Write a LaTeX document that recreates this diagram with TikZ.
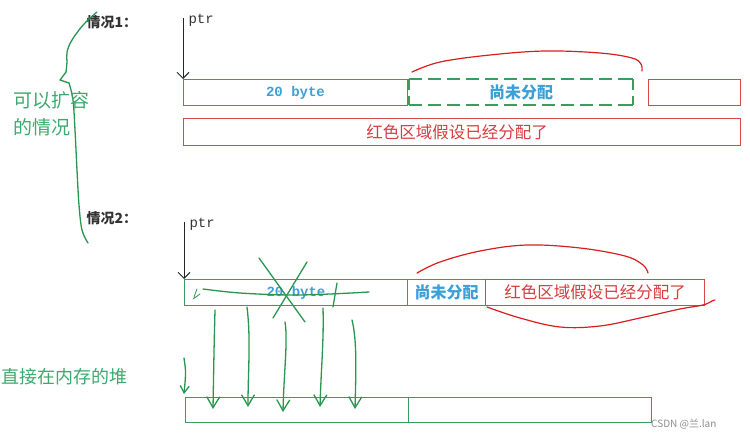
\documentclass[tikz,border=0pt]{standalone}
\usepackage{fontspec}
\setmainfont{Noto Sans CJK SC}
\newfontfamily\monof{Liberation Mono}
\usetikzlibrary{arrows.meta}
\definecolor{gline}{RGB}{58,157,93}
\definecolor{btext}{RGB}{60,160,215}
\definecolor{rline}{RGB}{217,72,72}
\definecolor{rtext}{RGB}{215,60,60}
\definecolor{hred}{RGB}{215,30,30}
\definecolor{hgreen}{RGB}{40,150,80}
\definecolor{gtext}{RGB}{60,170,110}
\begin{document}
\begin{tikzpicture}[x=1pt,y=-1pt,
  gboxs/.style={draw=gline, line width=1pt, rectangle, inner sep=0pt, anchor=north west, minimum height=26pt},
  gdashseg/.style={draw=gline, line width=1.4pt},
  rboxs/.style={draw=rline, line width=1pt, rectangle, inner sep=0pt, anchor=north west, minimum height=26pt},
  bt/.style={text=btext, font=\fontsize{16}{16}\selectfont\bfseries},
  rt/.style={text=rtext, font=\fontsize{16.5}{17}\selectfont},
  bytet/.style={text=btext, font=\monof\fontsize{14}{14}\selectfont\bfseries},
  monot/.style={font=\monof\fontsize{14}{14}\selectfont},
  caselbl/.style={anchor=west, font=\fontsize{14}{14}\selectfont\bfseries, text=black!80},
  ptrarrow/.style={draw=black!85, line width=1pt, -{Straight Barb[length=6pt,width=12pt]}},
  hand/.style={draw=hgreen, line width=1.3pt, line cap=round, line join=round},
  harrow/.style={hand, -{Straight Barb[length=11pt,width=13pt]}},
  redhand/.style={draw=hred, line width=1.2pt, line cap=round},
  gtxt/.style={anchor=west, text=gtext, font=\fontsize{19}{19}\selectfont}
]
\useasboundingbox (0,0) rectangle (750,436);

% ---------- case 1 ----------
\node[caselbl] (c1) at (83,22) {情况1：};
\node[monot, anchor=west, text=black!80] (p1) at (185,20) {ptr};
\coordinate (p1top) at (183,18);

\node[gboxs, minimum width=224pt] (a1) at (183,79) {};
\node[bytet] at (a1.center) {20 byte};
% dashed (not yet allocated) box, dashes drawn as solid pieces
\node[rectangle, inner sep=0pt, anchor=north west, minimum height=26pt, minimum width=224pt] (a2) at (409,79) {};
\foreach \x in {409,428,447,466,485,504,523,542,561,580,599} {
  \draw[gdashseg] (\x,79) -- ++(13,0);
  \draw[gdashseg] (\x,105) -- ++(13,0);
}
\draw[gdashseg] (618,79) -- (633,79);
\draw[gdashseg] (618,105) -- (633,105);
\draw[gdashseg] (409,79) -- (409,90) (409,96) -- (409,105);
\draw[gdashseg] (633,79) -- (633,90) (633,96) -- (633,105);
\node[bt] at (a2.center) {尚未分配};
\node[rboxs, minimum width=92pt] (a3) at (648,79) {};
\node[rboxs, minimum width=557pt, minimum height=27pt] (a4) at (183,118) {};
\node[rt] at ([xshift=-5pt]a4.center) {红色区域假设已经分配了};

\draw[ptrarrow] (p1top) -- (a1.north west);

\draw[redhand] plot[smooth, tension=0.6] coordinates {(412,72) (440,62) (490,55) (545,51) (600,53) (632,58) (641,64) (642,71)};

% left green bracket + text
\draw[hand] plot[smooth, tension=0.6] coordinates {(97,12) (84,24) (72,40) (67,52) (67,62) (66,72)};
\draw[hand] (66,72) -- (60,80) -- (69,83);
\draw[hand] plot[smooth, tension=0.6] coordinates {(69,83) (73,100) (75,130) (77,170) (79,205) (82,230) (88,243)};
\node[gtxt] (t1) at (10,100) {可以扩容};
\node[gtxt] (t2) at (10,127) {的情况};

% ---------- case 2 ----------
\node[caselbl] (c2) at (83,218) {情况2：};
\node[monot, anchor=west, text=black!80] (p2) at (186,224) {ptr};
\coordinate (p2top) at (184,222);

\node[gboxs, minimum width=223pt] (b1) at (184,279) {};
\node[bytet] at (b1.center) {20 byte};
\node[gboxs, minimum width=78pt] (b2) at (407,279) {};
\node[bt] at (b2.center) {尚未分配};
\node[rboxs, minimum width=219pt] (b3) at (485,279) {};
\node[rt] at (b3.center) {红色区域假设已经分配了};

\draw[ptrarrow] (p2top) -- (b1.north west);

\draw[redhand] plot[smooth, tension=0.6] coordinates {(417,273) (440,262) (480,251) (527,245) (580,248) (625,256) (643,265) (648,273)};
\draw[redhand] plot[smooth, tension=0.6] coordinates {(487,307) (520,318) (560,327) (600,326) (640,318) (680,309) (703,305) (712,301) (715,300)};

% hand strokes over the 20 byte box
\draw[hand] plot[smooth, tension=0.6] coordinates {(203,289) (240,293) (290,295) (330,294) (369,292)};
\draw[hand] (259,258) -- (305,322);
\draw[hand] (307,262) -- (273,318);
\draw[hand] (337,283) -- (333,307);
\draw[hand, line width=0.8pt] (194,297) -- (197,289) (193,299) -- (200,294);

% bottom box
\node[gboxs, minimum width=466pt, minimum height=25pt] (c3) at (185,397) {};
\coordinate (cdiv) at (408,397);
\draw[draw=gline, line width=1pt] (cdiv) -- (cdiv |- c3.south);

% green down arrows
\coordinate (s1) at (215,310); \coordinate (e1) at (213,409);
\coordinate (s2) at (247,307); \coordinate (e2) at (248,407);
\coordinate (s3) at (285,322); \coordinate (e3) at (283,412);
\coordinate (s4) at (323,308); \coordinate (e4) at (320,407);
\coordinate (s5) at (352,320); \coordinate (e5) at (355,409);
\draw[harrow] (s1) .. controls (214,350) .. (e1);
\draw[harrow] (s2) .. controls (251,340) and (248,370) .. (e2);
\draw[harrow] (s3) .. controls (288,340) and (284,370) .. (e3);
\draw[harrow] (s4) .. controls (324,340) and (321,370) .. (e4);
\draw[harrow] (s5) .. controls (357,340) and (356,370) .. (e5);
\coordinate (s0) at (184,358); \coordinate (e0) at (184,394);
\draw[harrow, -{Straight Barb[length=7pt,width=9pt]}] (s0) .. controls (186,372) .. (e0);

\node[gtxt, font=\fontsize{18}{18}\selectfont, inner sep=0pt] (t3) at (1,377) {直接在内存的堆};

% watermark
\node[anchor=south west, text=black!45, font=\fontsize{10}{10}\selectfont, inner sep=0pt] (wm) at (651,429) {CSDN @兰.lan};
\end{tikzpicture}
\end{document}
